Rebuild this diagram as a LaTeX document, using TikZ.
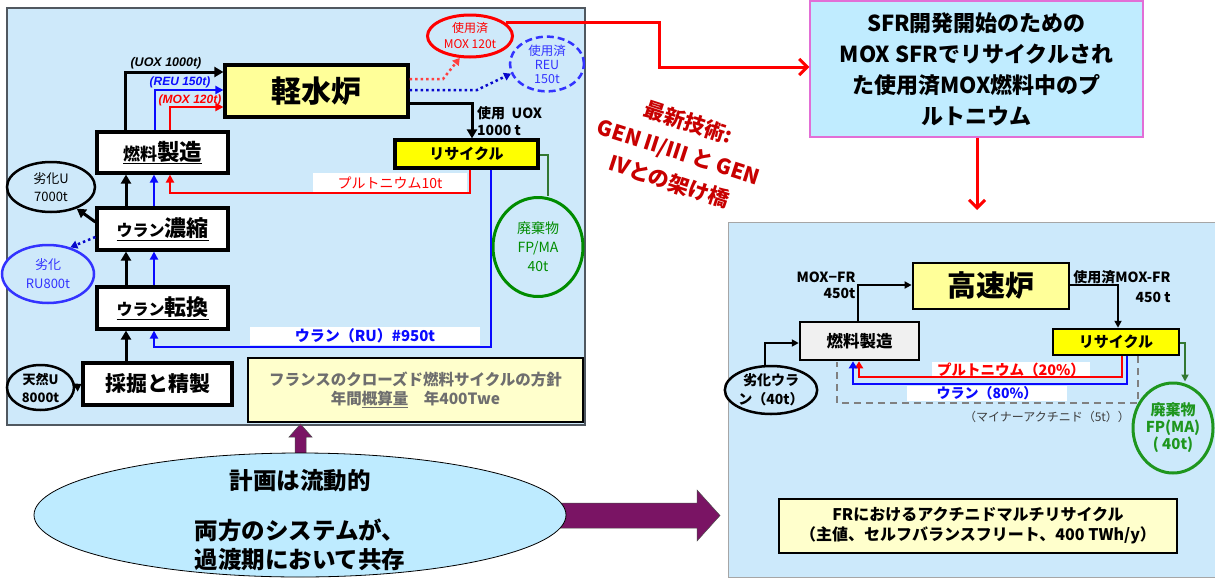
\documentclass[tikz,border=0pt]{standalone}
\usepackage{fontspec}
\setmainfont{Noto Sans CJK JP}
\newfontfamily\arial{Liberation Sans}
\usetikzlibrary{arrows.meta,shapes.geometric}
\newcommand\fsz[2]{\fontsize{#1}{#2}\selectfont}
\definecolor{panel}{RGB}{206,233,250}
\definecolor{panelR}{RGB}{204,233,251}
\definecolor{pborder}{RGB}{80,88,96}
\definecolor{sfrfill}{RGB}{192,236,255}
\definecolor{sfrdraw}{RGB}{226,110,214}
\definecolor{lyel}{RGB}{255,255,153}
\definecolor{yel}{RGB}{255,255,0}
\definecolor{noteY}{RGB}{255,255,204}
\definecolor{rd}{RGB}{255,0,0}
\definecolor{bl}{RGB}{10,10,255}
\definecolor{blt}{RGB}{51,51,255}
\definecolor{gr}{RGB}{0,140,0}
\definecolor{gr2}{RGB}{30,150,30}
\definecolor{grline}{RGB}{50,120,50}
\definecolor{purp}{RGB}{122,20,100}
\definecolor{dred}{RGB}{200,0,0}
\definecolor{notegray}{RGB}{110,110,110}
\definecolor{ellb}{RGB}{190,235,255}
\definecolor{fuelgray}{RGB}{240,240,240}
\definecolor{magray}{RGB}{60,60,60}
\begin{document}
\begin{tikzpicture}[x=1pt,y=-1pt,
  box/.style={draw=black, line width=3.2pt, align=center, inner sep=0pt, font=\bfseries},
  ell/.style={ellipse, inner sep=0pt, align=center},
  txt/.style={inner sep=0pt, align=center},
  blkar/.style={draw=black, line width=3pt, -{Triangle[length=9pt,width=10pt]}},
  bluar/.style={draw=bl, line width=2.5pt, -{Triangle[length=8pt,width=8pt]}},
  redar/.style={draw=rd, line width=2.5pt, -{Triangle[length=8pt,width=8pt]}},
  reddot/.style={draw=rd!75, line width=2.5pt, dash pattern=on 2.5pt off 3pt, -{Triangle[length=7pt,width=8pt]}},
  bludot/.style={draw=bl!80!black, line width=2.5pt, dash pattern=on 2.5pt off 3pt, -{Triangle[length=7pt,width=8pt]}},
  grl/.style={draw=grline, line width=2.2pt},
  ar2/.style={draw=black, line width=1.8pt, -{Triangle[length=7pt,width=7pt]}},
  red2/.style={draw=rd, line width=2.8pt, -{Triangle[length=7pt,width=8pt]}},
  blue2/.style={draw=bl, line width=2.2pt, -{Triangle[length=7pt,width=8pt]}},
  gray2/.style={draw=gray, line width=2pt, dash pattern=on 7pt off 5pt},
  green2/.style={draw=grline, line width=1.8pt, -{Triangle[length=7pt,width=7pt]}},
  rdbig/.style={draw=rd, line width=3pt, -{Straight Barb[length=8pt,width=16pt]}}
]
\useasboundingbox (0,0) rectangle (1215,581);
\fill[white] (0,0) rectangle (1215,581);

% panels
\filldraw[fill=panel, draw=pborder, line width=1.5pt] (7,8) rectangle (585,425);
\filldraw[fill=panelR, draw=gray!70, line width=1pt] (728,222) rectangle (1216,577);

% ---------- left panel nodes ----------
\node[box, fill=lyel, minimum width=183, minimum height=52] (lwr) at (316.5,91) {\fsz{30}{30}軽水炉};
\node[box, fill=white, minimum width=131, minimum height=41] (fuel) at (162.5,152.5) {\underline{\fsz{17}{17}燃料\fsz{22.5}{22.5}製造}};
\node[box, fill=white, minimum width=131, minimum height=42] (enr) at (162.5,229) {\underline{\fsz{16}{16}ウラン\fsz{22}{22}濃縮}};
\node[box, fill=white, minimum width=131, minimum height=42] (conv) at (162.5,308) {\underline{\fsz{16}{16}ウラン\fsz{22}{22}転換}};
\node[box, fill=white, minimum width=149, minimum height=42] (mine) at (157.5,384) {\fsz{21}{21}採掘と精製};
\node[box, fill=yel, minimum width=143, minimum height=28] (rec) at (466.5,154) {\fsz{15}{15}リサイクル};

\node[ell, draw=black, line width=2.5pt, fill=panel, minimum width=88, minimum height=50, font=\fsz{13}{18}] (du) at (51,187) {劣化U\\7000t};
\node[ell, draw=blt, line width=2.5pt, fill=panel, minimum width=92, minimum height=58, text=blt, font=\fsz{13}{19}] (ru) at (48,274) {劣化\\RU800t};
\node[ell, draw=black, line width=2.5pt, fill=panel, minimum width=67, minimum height=45, font=\fsz{13}{18}\bfseries] (nat) at (40.5,387.5) {天然U\\8000t};
\node[ell, draw=rd, line width=3pt, fill=panel, minimum width=85, minimum height=42, text=rd, font=\fsz{12}{16}] (mox) at (470,36) {使用済\\MOX 120t};
\node[ell, draw=blt, dash pattern=on 7pt off 4pt, line width=2.5pt, fill=panel, minimum width=74, minimum height=52, text=blt, font=\fsz{12.5}{14}] (reu) at (547,64) {使用済\\REU\\150t};
\node[ell, draw=gr, line width=3pt, fill=panel, minimum width=90, minimum height=99, text=gr, font=\fsz{14}{19}] (waste) at (538,247) {廃棄物\\FP/MA\\40t};

\node[draw=black, line width=1.2pt, fill=noteY, minimum width=335, minimum height=64, align=center, text=notegray, font=\bfseries\fsz{15.5}{19}] (note) at (415.5,390) {フランスのクローズド燃料サイクルの方針\\年間\underline{概算量}\quad 年400Twe};

% labels
\node[txt, font=\arial\bfseries\itshape\fsz{12.5}{12.5}] (luox) at (166,63) {(UOX 1000t)};
\node[txt, text=bl, font=\arial\bfseries\itshape\fsz{12}{12}] (lreu) at (180,82) {(REU 150t)};
\node[txt, text=rd, font=\arial\bfseries\itshape\fsz{12}{12}] (lmox) at (190,100) {(MOX 120t)};
\node[txt, anchor=west, align=left, font=\bfseries\fsz{14}{17}] (luse) at (477,121) {使用\ \ UOX\\1000 t};
\node[fill=white, inner sep=0pt, minimum width=154, minimum height=19, text=rd, font=\fsz{14}{14}] (lpu) at (390,182.5) {プルトニウム10t};
\node[fill=white, inner sep=0pt, minimum width=230, minimum height=18, text=bl, font=\bfseries\fsz{15}{15}] (lru) at (365,336) {ウラン（RU）\#950t};

% connectors left
\draw[blkar] (125,0 |- fuel.north) |- (lwr.west |- 0,72);
\draw[bluar] (155,0 |- fuel.north) |- (lwr.west |- 0,90);
\draw[redar] (170,0 |- fuel.north) |- (lwr.west |- 0,107);
\draw[blkar] (lwr.east |- 0,103) -| (472,0 |- rec.north);
\draw[reddot] (lwr.east |- 0,79) -- (443,79) -- (mox.245);
\draw[bludot] (lwr.east |- 0,90) -- (477,90) -- (reu.195);
\draw[redar] (470,0 |- rec.south) |- (170,193) -- (170,0 |- fuel.south);
\draw[bluar] (491,0 |- rec.south) |- (154,347) -- (154,0 |- conv.south);
\draw[grl] (rec.east |- 0,155) -| (548,0 |- waste.north);
\draw[blkar] (126,0 |- mine.north) -- (126,0 |- conv.south);
\draw[blkar] (126,0 |- conv.north) -- (126,0 |- enr.south);
\draw[blkar] (126,0 |- enr.north) -- (126,0 |- fuel.south);
\draw[bluar] (154,0 |- conv.north) -- (154,0 |- enr.south);
\draw[bluar] (154,0 |- enr.north) -- (154,0 |- fuel.south);
\draw[blkar] (enr.west |- 0,222) -- (du.320);
\draw[bludot] (enr.west |- 0,237) -- (ru.50);
\draw[draw=black, line width=2pt, -{Triangle[length=7pt,width=9pt]}] (nat.east) -- (mine.west);

% ---------- SFR box and bridge ----------
\node[draw=sfrdraw, line width=1.5pt, fill=sfrfill, minimum width=333, minimum height=136, align=center, font=\bfseries\fsz{22}{31}] (sfr) at (976.5,69) {SFR開発開始のための\\MOX SFRでリサイクルされ\\た使用済MOX燃料中のプ\\ルトニウム};
\coordinate (sfrtip) at (977,210);
\draw[rdbig] (mox.20) -| (659,67) -- (sfr.west |- 0,67);
\draw[rdbig] (977,0 |- sfr.south) -- (sfrtip);
\node[rotate=-18, text=dred, align=center, inner sep=0pt, font=\bfseries\fsz{21}{31}] (bridge) at (679,152) {最新技術:\\GEN II/III と GEN\\IVとの架け橋};

% ---------- right panel ----------
\node[box, line width=2.8pt, fill=lyel, minimum width=156, minimum height=46, font=\bfseries\fsz{29}{29}] (fr) at (991,286) {高速炉};
\node[box, line width=2.5pt, fill=fuelgray, minimum width=119, minimum height=38, font=\bfseries\fsz{16.5}{16.5}] (fuel2) at (859.5,341) {燃料製造};
\node[box, line width=2.5pt, fill=yel, minimum width=126, minimum height=26, font=\bfseries\fsz{15}{15}] (rec2) at (1116,342) {リサイクル};
\node[ell, draw=black, line width=2.5pt, fill=panelR, minimum width=84, minimum height=48, font=\bfseries\fsz{14}{19}] (du2) at (771,390) {劣化ウラ\\ン（40t）};
\node[ell, draw=gr2, line width=3pt, fill=panelR, minimum width=80, minimum height=90, text=gr2, font=\bfseries\fsz{15}{17}] (waste2) at (1173,428) {廃棄物\\FP(MA)\\( 40t)};
\node[draw=black, line width=2.5pt, fill=noteY, minimum width=398, minimum height=54, align=center, font=\bfseries\fsz{16}{20}] (note2) at (978,526) {FRにおけるアクチニドマルチリサイクル\\（主値、セルフバランスフリート、400 TWh/y）};

\node[txt, align=right, font=\bfseries\fsz{14}{16}] (lmoxfr) at (826,285) {MOX−FR\\450t};
\node[txt, align=right, font=\bfseries\fsz{14}{20}] (lspent) at (1122,287) {使用済MOX-FR\\450 t};
\node[fill=white, inner sep=0pt, minimum width=158, minimum height=15, text=rd, font=\bfseries\fsz{14.5}{14.5}] (lpu2) at (1011,369.5) {プルトニウム（20\%）};
\node[fill=white, inner sep=0pt, minimum width=160, minimum height=15, text=bl, font=\bfseries\fsz{14}{14}] (lu2) at (987,393) {ウラン（80\%）};
\node[txt, text=magray, font=\fsz{12}{12}] (lma) at (1047,417) {（マイナーアクチニド（5t））};

\coordinate (mafree) at (837,362);
\draw[ar2] (858,0 |- fuel2.north) |- (fr.west |- 0,285);
\draw[ar2] (fr.east |- 0,285) -| (1118,0 |- rec2.north);
\draw[ar2] (765,0 |- du2.north) |- (fuel2.west |- 0,343);
\draw[red2] (1122,0 |- rec2.south) |- (859,377) -- (859,0 |- fuel2.south);
\draw[blue2] (1127,0 |- rec2.south) |- (853,384) -- (853,0 |- fuel2.south);
\draw[gray2] (1138,0 |- rec2.south) |- (837,403) -- (mafree);
\draw[green2] (rec2.east |- 0,343) -| (1185,0 |- waste2.north);

% ---------- bottom ellipse and purple arrows ----------
\filldraw[fill=purp, draw=black!70, line width=0.5pt] (295,460) -- (295,437) -- (289,437) -- (300.5,424) -- (312,437) -- (306,437) -- (306,460) -- cycle;
\filldraw[fill=purp, draw=black!70, line width=0.5pt] (555,503) -- (697,503) -- (697,490) -- (720,515.5) -- (697,541) -- (697,528) -- (555,528) -- cycle;
\node[ellipse, draw=black, line width=0.8pt, fill=ellb, minimum width=532, minimum height=124] (plan) at (300,515) {};
\node[txt, font=\bfseries\fsz{23.5}{23.5}] (plan1) at (300,481) {計画は流動的};
\node[txt, font=\bfseries\fsz{23.5}{29}] (plan2) at (300,544.5) {両方のシステムが、\\過渡期において共存};
\end{tikzpicture}
\end{document}
